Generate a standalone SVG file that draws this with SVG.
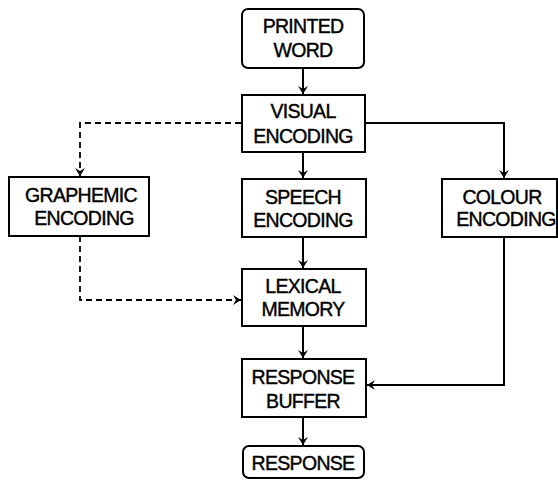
<svg xmlns="http://www.w3.org/2000/svg" width="558" height="480" viewBox="0 0 558 480">
<defs>
<marker id="arr" markerUnits="userSpaceOnUse" markerWidth="12" markerHeight="12" viewBox="-10 -6 12 12" refX="0" refY="0" orient="auto">
<path d="M0,0 L-8,-5 L-5,0 L-8,5 Z" fill="#000"/>
</marker>
</defs>
<style>
.box{fill:#fff;stroke:#000;stroke-width:2}
.t{font-family:"Liberation Sans",Arial,sans-serif;font-size:19.5px;letter-spacing:-0.7px;fill:#000;stroke:#000;stroke-width:0.4;text-anchor:middle}
.c{fill:none;stroke:#000;stroke-width:2}
.d{fill:none;stroke:#000;stroke-width:1.8;stroke-dasharray:6 4}
</style>
<g id="connectors">
<line class="c" x1="303" y1="68" x2="303" y2="94" marker-end="url(#arr)"/>
<line class="c" x1="303" y1="152" x2="303" y2="178" marker-end="url(#arr)"/>
<line class="c" x1="303" y1="237" x2="303" y2="268" marker-end="url(#arr)"/>
<line class="c" x1="303" y1="326" x2="303" y2="358" marker-end="url(#arr)"/>
<line class="c" x1="303" y1="417" x2="303" y2="445" marker-end="url(#arr)"/>
<polyline class="c" points="365,123 504,123 504,178" marker-end="url(#arr)"/>
<polyline class="c" points="504,237 504,385 367,385" marker-end="url(#arr)"/>
<polyline class="d" points="241,123 80,123 80,176" marker-end="url(#arr)"/>
<polyline class="d" points="80,236 80,300 241,300" marker-end="url(#arr)"/>
</g>
<g id="printed-word">
<rect class="box" x="242" y="9" width="122" height="59" rx="6"/>
<text class="t" x="303" y="33">PRINTED</text>
<text class="t" x="303" y="57">WORD</text>
</g>
<g id="visual-encoding">
<rect class="box" x="242" y="95" width="123" height="57"/>
<text class="t" x="303" y="118">VISUAL</text>
<text class="t" x="303" y="143">ENCODING</text>
</g>
<g id="graphemic-encoding">
<rect class="box" x="9" y="177" width="140" height="59"/>
<text class="t" x="81" y="202">GRAPHEMIC</text>
<text class="t" x="84" y="225">ENCODING</text>
</g>
<g id="speech-encoding">
<rect class="box" x="242" y="179" width="124" height="58"/>
<text class="t" x="303" y="204">SPEECH</text>
<text class="t" x="303" y="227">ENCODING</text>
</g>
<g id="colour-encoding">
<rect class="box" x="442" y="179" width="115" height="58"/>
<text class="t" x="502" y="204">COLOUR</text>
<text class="t" x="506" y="226">ENCODING</text>
</g>
<g id="lexical-memory">
<rect class="box" x="242" y="269" width="124" height="57"/>
<text class="t" x="303" y="293">LEXICAL</text>
<text class="t" x="303" y="316">MEMORY</text>
</g>
<g id="response-buffer">
<rect class="box" x="242" y="359" width="124" height="58"/>
<text class="t" x="303" y="384">RESPONSE</text>
<text class="t" x="303" y="408">BUFFER</text>
</g>
<g id="response">
<rect class="box" x="243" y="446" width="121" height="32" rx="6"/>
<text class="t" x="303" y="470">RESPONSE</text>
</g>
</svg>
